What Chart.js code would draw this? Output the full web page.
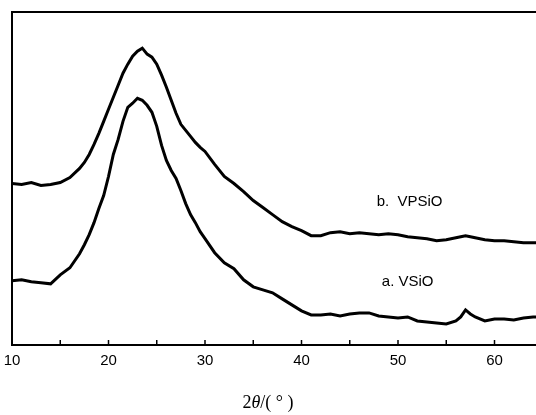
<!DOCTYPE html>
<html>
<head>
<meta charset="utf-8">
<script src="https://cdn.jsdelivr.net/npm/chart.js@4"></script>
<style>
  html, body { margin: 0; padding: 0; background: #fff; }
  #wrap { width: 536px; height: 415px; position: relative; }
</style>
</head>
<body>
<div id="wrap"><canvas id="xrd"></canvas></div>
<script>
// 2theta positions (deg)
const twoTheta = [10, 11, 12, 13, 14, 15, 16, 17, 17.5, 18, 18.5, 19, 19.5, 20, 20.5, 21, 21.5, 22, 22.5,
  23, 23.5, 24, 24.5, 25, 25.5, 26, 26.5, 27, 27.5, 28, 28.5, 29, 29.5, 30, 31, 32, 33, 34, 35, 36, 37,
  38, 39, 40, 41, 42, 43, 44, 45, 46, 47, 48, 49, 50, 51, 52, 53, 54, 55, 56, 56.5, 57, 57.5, 58, 59,
  60, 61, 62, 63, 64, 64.3];

// b. VPSiO (upper trace), arbitrary intensity
const vpsio = [161, 160, 162, 159, 160, 162, 167, 176, 182, 190, 200, 211, 223, 235, 247, 259, 271, 280, 288,
  293, 296, 290, 287, 280, 269, 257, 244, 231, 220, 214, 208, 202, 197, 193, 180, 168, 161, 153, 144, 137, 130,
  123, 118, 114, 109, 109, 112, 113, 111, 112, 111, 110, 111, 110, 108, 107, 106, 104, 105, 107, 108, 109, 108, 107, 105,
  104, 104, 103, 102, 102, 102];

// a. VSiO (lower trace)
const vsio = [64, 65, 63, 62, 61, 70, 77, 91, 100, 110, 122, 136, 149, 168, 190, 205, 223, 237, 241,
  246, 244, 239, 232, 218, 199, 184, 174, 166, 154, 141, 130, 122, 113, 106, 92, 82, 76, 65, 58, 55, 52,
  46, 40, 34, 30, 30, 31, 29, 31, 32, 32, 29, 28, 27, 28, 24, 23, 22, 21, 24, 28, 35, 31, 28, 24,
  26, 26, 25, 27, 28, 28];

const xTicks = [10, 20, 30, 40, 50, 60];
const xMinorTicks = [15, 25, 35, 45, 55];

// curve labels, in data units
const curveLabels = [
  { text: 'b.  VPSiO', x: 51.2, y: 143 },
  { text: 'a. VSiO', x: 51.0, y: 63 }
];

const toPoints = vals => twoTheta.map((t, i) => ({ x: t, y: vals[i] }));

const framePlugin = {
  id: 'frame',
  afterDraw(chart) {
    const { ctx, chartArea, scales } = chart;
    const xs = scales.x;
    const ys = scales.y;
    ctx.save();
    ctx.strokeStyle = '#000';
    ctx.lineWidth = 2;
    ctx.beginPath();
    ctx.moveTo(chart.width, chartArea.top);
    ctx.lineTo(chartArea.left, chartArea.top);
    ctx.lineTo(chartArea.left, chartArea.bottom);
    ctx.lineTo(chart.width, chartArea.bottom);
    ctx.stroke();

    // inward ticks on the bottom axis
    ctx.lineWidth = 1.5;
    xTicks.concat(xMinorTicks).forEach(v => {
      const px = xs.getPixelForValue(v);
      ctx.beginPath();
      ctx.moveTo(px, chartArea.bottom);
      ctx.lineTo(px, chartArea.bottom - 5);
      ctx.stroke();
    });

    ctx.fillStyle = '#000';
    ctx.font = '15px "Liberation Sans", Arial, sans-serif';
    ctx.textAlign = 'center';
    ctx.textBaseline = 'middle';
    curveLabels.forEach(l => {
      ctx.fillText(l.text, xs.getPixelForValue(l.x), ys.getPixelForValue(l.y));
    });

    // axis title: 2θ/(°) with italic theta
    const parts = [
      { s: '2', f: '18px "Liberation Serif", "DejaVu Serif", serif' },
      { s: 'θ', f: 'italic 18px "Liberation Serif", "DejaVu Serif", serif' },
      { s: '/( ° )', f: '18px "Liberation Serif", "DejaVu Serif", serif' }
    ];
    let total = 0;
    parts.forEach(p => { ctx.font = p.f; p.w = ctx.measureText(p.s).width; total += p.w; });
    let cx = chart.width / 2 - total / 2;
    const cy = chart.height - 12;
    ctx.textAlign = 'left';
    parts.forEach(p => {
      ctx.font = p.f;
      ctx.fillText(p.s, cx, cy);
      cx += p.w;
    });
    ctx.restore();
  }
};

new Chart(document.getElementById('xrd'), {
  type: 'line',
  data: {
    datasets: [
      { label: 'b. VPSiO', data: toPoints(vpsio), borderColor: '#000', borderWidth: 3, pointRadius: 0, tension: 0 },
      { label: 'a. VSiO', data: toPoints(vsio), borderColor: '#000', borderWidth: 3, pointRadius: 0, tension: 0 }
    ]
  },
  options: {
    responsive: true,
    maintainAspectRatio: false,
    animation: false,
    layout: { padding: { left: 12, top: 12, right: 0, bottom: 38 } },
    plugins: { legend: { display: false }, tooltip: { enabled: false } },
    scales: {
      x: {
        type: 'linear',
        min: 10,
        max: 64.3,
        afterBuildTicks: scale => { scale.ticks = xTicks.map(v => ({ value: v })); },
        afterFit: scale => { scale.paddingLeft = 0; scale.paddingRight = 0; },
        grid: { display: false, drawTicks: false },
        border: { display: false },
        ticks: {
          padding: 7,
          color: '#000',
          font: { family: '"Liberation Sans", Arial, sans-serif', size: 15 }
        }
      },
      y: {
        display: false,
        min: 0,
        max: 332
      }
    }
  },
  plugins: [framePlugin]
});
</script>
</body>
</html>
